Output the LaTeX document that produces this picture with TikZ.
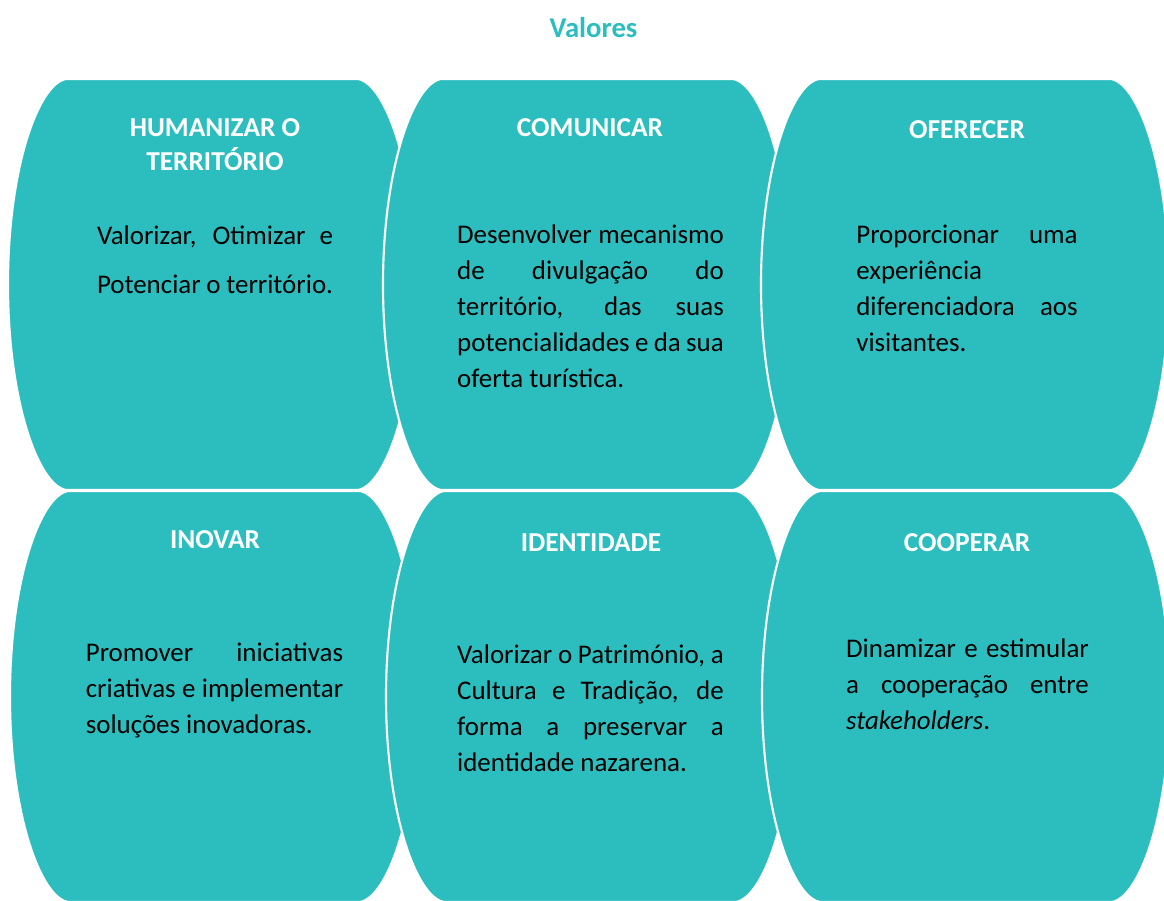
\documentclass[tikz,border=0pt]{standalone}
\usepackage{fontspec}
\setmainfont{Carlito}
\definecolor{valteal}{HTML}{2CBEBF}
\hyphenpenalty=10000
\emergencystretch=20pt
\tikzset{
  valshape/.style={fill=valteal, draw=white, line width=1.6pt},
  valhead/.style={text=white, font=\fontsize{20.5}{26}\selectfont\bfseries, align=center, inner sep=0pt},
  valtext/.style={text=black, font=\fontsize{20.2}{27}\selectfont, align=justify, inner sep=0pt},
}
\begin{document}
\begin{tikzpicture}[x=0.75pt, y=0.75pt]
\useasboundingbox (0,0) rectangle (1164,900);
\clip (0,0) rectangle (1164,900);
% shapes
    \foreach \cx/\cy in {212/615.5,587/615.5,965/615.5,214/203.5,590/203.5,966/203.5}{
        \filldraw[valshape] (\cx-146,\cy+205.5)
            .. controls (\cx-174,\cy+200.5) and (\cx-204,\cy+115.5) .. (\cx-204,\cy)
            .. controls (\cx-204,\cy-115.5) and (\cx-174,\cy-200.5) .. (\cx-146,\cy-205.5)
            -- (\cx+146,\cy-205.5)
            .. controls (\cx+174,\cy-200.5) and (\cx+204,\cy-115.5) .. (\cx+204,\cy)
            .. controls (\cx+204,\cy+115.5) and (\cx+174,\cy+200.5) .. (\cx+146,\cy+205.5)
            -- cycle;
    }
% title
    \node[valhead, text=valteal, font=\fontsize{21.5}{26}\selectfont\bfseries] (title) at (593.5,872) {Valores};
% headings
    \node[valhead] (humhead) at (215,755.5) {HUMANIZAR O\\TERRITÓRIO};
    \node[valhead] (comhead) at (590,772) {COMUNICAR};
    \node[valhead] (ofehead) at (967,770) {OFERECER};
    \node[valhead] (inohead) at (215,360) {INOVAR};
    \node[valhead] (idehead) at (591,357) {IDENTIDADE};
    \node[valhead] (coohead) at (967,357) {COOPERAR};
% texts
    \node[valtext, text width=177pt, font=\fontsize{20.2}{36.75}\selectfont] (humtext) at (215,640.5)
        {Valorizar, Otimizar e\linebreak Potenciar o território.};
    \node[valtext, text width=200pt] (comtext) at (590.5,593.5)
        {Desenvolver mecanismo\linebreak de divulgação do\linebreak território, das suas\linebreak potencialidades e da sua\linebreak oferta turística.};
    \node[valtext, text width=166pt] (ofetext) at (967,611.5)
        {Proporcionar uma\linebreak experiência\linebreak diferenciadora aos\linebreak visitantes.};
    \node[valtext, text width=193pt] (inotext) at (214.5,210)
        {Promover iniciativas\linebreak criativas e implementar\linebreak soluções inovadoras.};
    \node[valtext, text width=200pt] (idetext) at (590.5,191.5)
        {Valorizar o Património, a\linebreak Cultura e Tradição, de\linebreak forma a preservar a\linebreak identidade nazarena.};
    \node[valtext, text width=182pt] (cootext) at (967.5,216)
        {Dinamizar e estimular\linebreak a cooperação entre\linebreak \textit{stakeholders}.};
\end{tikzpicture}
\end{document}
